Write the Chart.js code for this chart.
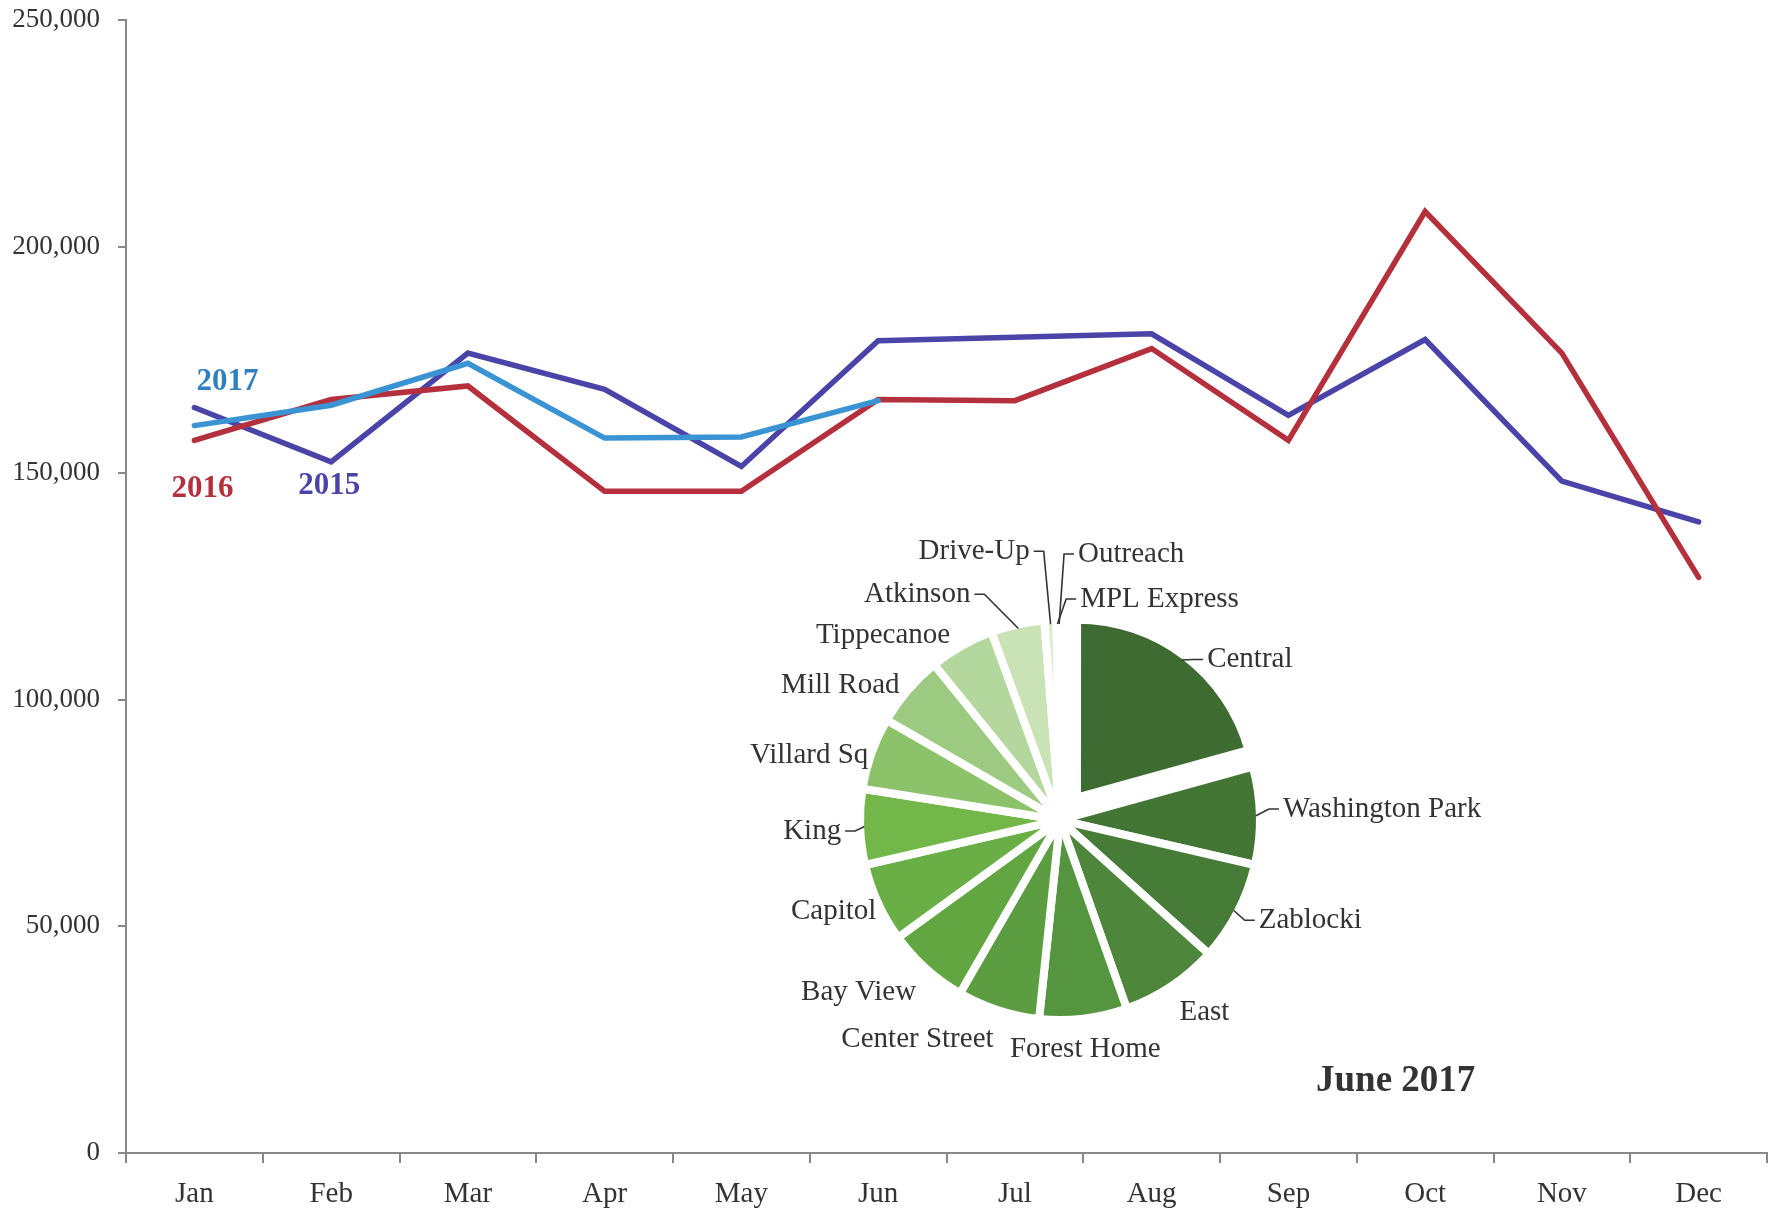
<!DOCTYPE html>
<html>
<head>
<meta charset="utf-8">
<script src="https://cdn.jsdelivr.net/npm/chart.js@4.4.1/dist/chart.umd.min.js"></script>
<style>
  body { margin: 0; background: #fff; }
  #wrap { position: relative; width: 1779px; height: 1209px; }
  #lineChart { position: absolute; left: 0; top: 0; }
  #pieChart { position: absolute; left: 610px; top: 500px; }
  #pieTitle { position: absolute; left: 1316px; top: 1060px; font: bold 37px "Liberation Serif", serif; color: #333; line-height: 1; }
</style>
</head>
<body>
<div id="wrap">
  <canvas id="lineChart" width="1779" height="1209"></canvas>
  <canvas id="pieChart" width="900" height="640"></canvas>
  <div id="pieTitle">June 2017</div>
</div>
<script>
// monthly circulation
const months = ['Jan', 'Feb', 'Mar', 'Apr', 'May', 'Jun', 'Jul', 'Aug', 'Sep', 'Oct', 'Nov', 'Dec'];
const circ2015 = [164500, 152500, 176500, 168500, 151500, 179250, 180000, 180750, 162750, 179500, 148250, 139250];
const circ2016 = [157250, 166250, 169250, 146000, 146000, 166250, 166000, 177500, 157250, 207750, 176500, 127000];
const circ2017 = [160500, 165000, 174250, 157750, 158000, 166000];
const yMax = 250000;
const yStep = 50000;

// June 2017 share by location
const branches = ['Central', 'Washington Park', 'Zablocki', 'East', 'Forest Home', 'Center Street', 'Bay View',
  'Capitol', 'King', 'Villard Sq', 'Mill Road', 'Tippecanoe', 'Atkinson', 'Drive-Up', 'MPL Express', 'Outreach'];
const juneShare = [74.5, 28.5, 29, 28.5, 25.5, 24, 24, 23, 22, 21, 21, 19, 15.5, 3.5, 0.5, 0.5];
const branchColors = ['#3e6b31', '#437535', '#477c38', '#4e873c', '#569540', '#5b9d40', '#62a642',
  '#6aaf45', '#73b64a', '#8bc26a', '#9cca80', '#b3d79c', '#c9e3b6', '#dceed0', '#e6f3dd', '#eef7e8'];

const serif = '"Liberation Serif", serif';

// year tags next to the lines
const seriesTags = [
  { text: '2017', color: '#2f80bd', values: circ2017, month: 0, dx: 33, dy: -44 },
  { text: '2016', color: '#b3303c', values: circ2016, month: 0, dx: 8, dy: 49 },
  { text: '2015', color: '#4b44a8', values: circ2015, month: 1, dx: -2, dy: 24 },
];

const seriesTagPlugin = {
  id: 'seriesTags',
  afterDatasetsDraw(chart) {
    const { ctx, scales: { x, y } } = chart;
    ctx.save();
    ctx.font = 'bold 31px ' + serif;
    ctx.textAlign = 'center';
    ctx.textBaseline = 'middle';
    seriesTags.forEach(t => {
      ctx.fillStyle = t.color;
      ctx.fillText(t.text, x.getPixelForValue(t.month) + t.dx, y.getPixelForValue(t.values[t.month]) + t.dy);
    });
    ctx.restore();
  }
};

// exploded slice: pulled out (chart.js moves it offset/4) and drawn smaller
const explode = { index: 0, offset: 112, radiusCut: 23 };

// hand tweaks for the crowded labels
const labelTweaks = {
  'Central': { dx: 17, dy: 18, leader: true },
  'Washington Park': { dx: 8, dy: -9, leader: true },
  'Zablocki': { dx: 8, dy: -8, leader: true },
  'Capitol': { dx: 12, dy: -6 },
  'King': { dx: -4, dy: 0, leader: true },
  'Villard Sq': { dx: 11, dy: 8 },
  'Mill Road': { dx: 3, dy: 10 },
  'Tippecanoe': { dx: -4, dy: 11 },
  'Atkinson': { dx: -44, dy: -6, align: 'right', leader: true },
  'Drive-Up': { dx: -20, dy: -44, align: 'right', leader: true },
  'MPL Express': { dx: 23, dy: 4, align: 'left', leader: true },
  'Outreach': { dx: 19, dy: -41, align: 'left', leader: true },
};

const explodePlugin = {
  id: 'explodeSlice',
  afterDatasetsUpdate(chart) {
    const arc = chart.getDatasetMeta(0).data[explode.index];
    if (arc) {
      arc.outerRadius -= explode.radiusCut;
      arc.innerRadius = 0;
    }
  }
};

const pieLabelPlugin = {
  id: 'pieLabels',
  afterDatasetsDraw(chart) {
    const { ctx } = chart;
    const meta = chart.getDatasetMeta(0);
    const offsets = chart.data.datasets[0].offset;
    const R = Math.max(...meta.data.map(a => a.outerRadius));
    ctx.save();
    ctx.font = '29px ' + serif;
    ctx.fillStyle = '#333';
    ctx.strokeStyle = '#333';
    ctx.lineWidth = 1.6;
    ctx.textBaseline = 'middle';
    meta.data.forEach((arc, i) => {
      const { x, y, startAngle, endAngle, outerRadius } =
        arc.getProps(['x', 'y', 'startAngle', 'endAngle', 'outerRadius'], true);
      const mid = (startAngle + endAngle) / 2;
      const cos = Math.cos(mid), sin = Math.sin(mid);
      const d = R + 15;
      let tx = x + cos * d;
      let ty = y + sin * d + sin * 13 + 3;
      let align = cos > 0.2 ? 'left' : cos < -0.2 ? 'right' : 'center';
      const name = chart.data.labels[i];
      const tw = labelTweaks[name];
      if (tw) {
        tx += tw.dx;
        ty += tw.dy;
        if (tw.align) align = tw.align;
        if (tw.leader) {
          const r = outerRadius + (offsets[i] || 0) / 4 - 4;
          const side = align === 'right' ? 1 : -1;
          ctx.beginPath();
          ctx.moveTo(x + cos * r, y + sin * r);
          ctx.lineTo(tx + side * 14, ty);
          ctx.lineTo(tx + side * 4, ty);
          ctx.stroke();
        }
      }
      ctx.textAlign = align;
      ctx.fillText(name, tx, ty);
    });
    ctx.restore();
  }
};

const lineStyle = { borderWidth: 5.5, pointRadius: 0, tension: 0, borderCapStyle: 'round', borderJoinStyle: 'miter', fill: false };

new Chart(document.getElementById('lineChart'), {
  type: 'line',
  data: {
    labels: months,
    datasets: [
      { label: '2017', data: circ2017, borderColor: '#3a93d2', ...lineStyle },
      { label: '2016', data: circ2016, borderColor: '#b3303c', ...lineStyle },
      { label: '2015', data: circ2015, borderColor: '#4b44a8', ...lineStyle },
    ],
  },
  options: {
    responsive: false,
    animation: false,
    devicePixelRatio: 1,
    layout: { padding: { top: 20, right: 12, left: 0, bottom: 0 } },
    plugins: { legend: { display: false }, tooltip: { enabled: false } },
    scales: {
      x: {
        offset: true,
        grid: { offset: true, drawOnChartArea: false, tickLength: 10, color: '#888', lineWidth: 2 },
        border: { color: '#888', width: 2 },
        ticks: { font: { family: serif, size: 29 }, color: '#333', padding: 14, maxRotation: 0 },
        afterFit(s) { s.height = 56; },
      },
      y: {
        min: 0,
        max: yMax,
        grid: { drawOnChartArea: false, tickLength: 8, color: '#888', lineWidth: 2 },
        border: { color: '#888', width: 2 },
        ticks: {
          stepSize: yStep,
          font: { family: serif, size: 27 },
          color: '#333',
          padding: 18,
          callback: v => v.toLocaleString('en-US'),
        },
        afterFit(s) { s.width = 126; s.paddingTop = 0; s.paddingBottom = 0; },
      },
    },
  },
  plugins: [seriesTagPlugin],
});

new Chart(document.getElementById('pieChart'), {
  type: 'pie',
  data: {
    labels: branches,
    datasets: [{
      data: juneShare,
      backgroundColor: branchColors,
      borderColor: '#fff',
      borderWidth: 8,
      offset: branches.map((b, i) => i === explode.index ? explode.offset : 0),
      hoverOffset: 0,
    }],
  },
  options: {
    responsive: false,
    animation: false,
    devicePixelRatio: 1,
    radius: 200,
    cutout: 14,
    layout: { padding: 0 },
    plugins: { legend: { display: false }, tooltip: { enabled: false } },
  },
  plugins: [explodePlugin, pieLabelPlugin],
});
</script>
</body>
</html>
